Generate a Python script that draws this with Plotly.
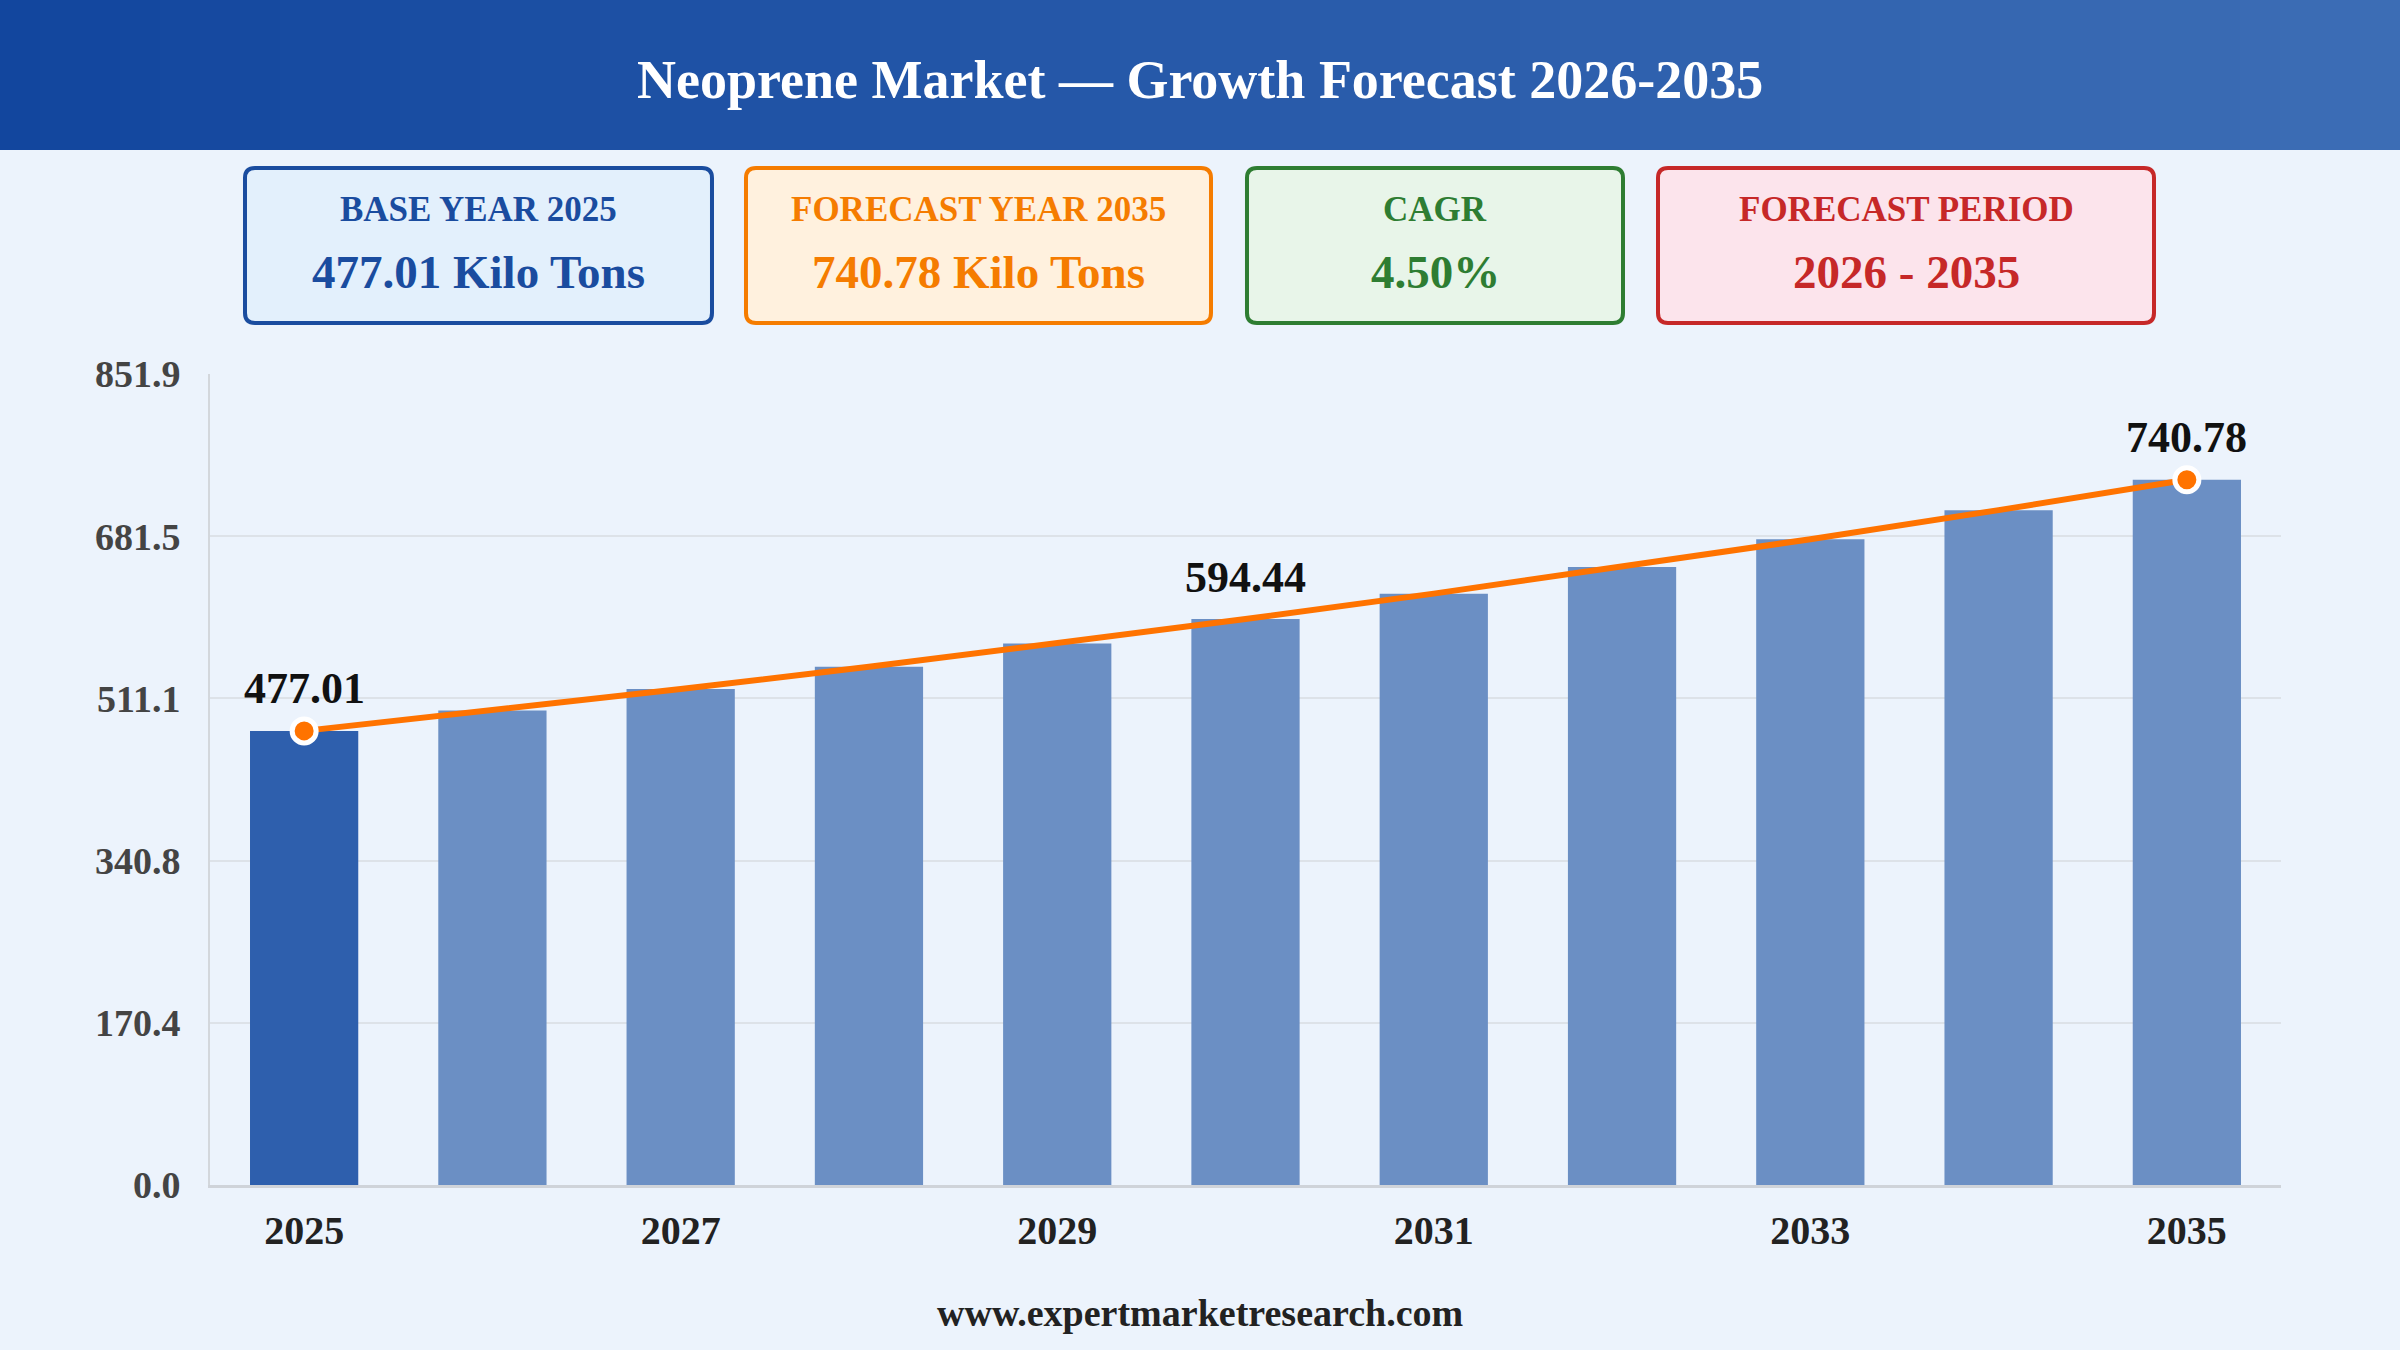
import plotly.graph_objects as go

# chart data
years = ['2025', '2026', '2027', '2028', '2029', '2030', '2031', '2032', '2033', '2034', '2035']
volume = [477.01, 498.48, 520.91, 544.35, 568.84, 594.44, 621.19, 649.14, 678.35, 708.88, 740.78]
label_years = ['2025', '2030', '2035']
marker_years = ['2025', '2035']
x_ticks = ['2025', '2027', '2029', '2031', '2033', '2035']
y_ticks = [0.0, 170.4, 340.8, 511.1, 681.5, 851.9]

# summary cards
card_titles = ['BASE YEAR 2025', 'FORECAST YEAR 2035', 'CAGR', 'FORECAST PERIOD']
card_values = ['477.01 Kilo Tons', '740.78 Kilo Tons', '4.50%', '2026 - 2035']
card_colors = ['#1a4c9f', '#f57c00', '#2e7d32', '#c62828']
card_fills = ['#e3f0fc', '#fff1de', '#e8f5e9', '#fce4ec']
card_x = [(245, 712), (746, 1211), (1247, 1623), (1658, 2154)]

FONT = 'Times New Roman, Liberation Serif, serif'
W, H = 2400, 1350
L, R, T, B = 210, 119, 374, 165
PW, PH = W - L - R, H - T - B


def px(x):
    return (x - L) / PW


def py(y):
    return 1 - (y - T) / PH


def rounded_path(x0, y0, x1, y1, r):
    pts = [('M', x0 + r, y0), ('L', x1 - r, y0), ('Q', x1, y0, x1, y0 + r),
           ('L', x1, y1 - r), ('Q', x1, y1, x1 - r, y1), ('L', x0 + r, y1),
           ('Q', x0, y1, x0, y1 - r), ('L', x0, y0 + r), ('Q', x0, y0, x0 + r, y0)]
    s = ''
    for p in pts:
        cmd, coords = p[0], p[1:]
        pairs = []
        for i in range(0, len(coords), 2):
            pairs.append(f'{px(coords[i]):.5f},{py(coords[i + 1]):.5f}')
        s += cmd + ' ' + ' '.join(pairs) + ' '
    return s + 'Z'


bar_colors = ['#2e5fad'] + ['#6b8fc4'] * (len(years) - 1)

fig = go.Figure()

fig.add_trace(go.Bar(
    x=years, y=volume,
    marker=dict(color=bar_colors, line=dict(width=0)),
    hoverinfo='x+y', showlegend=False
))

fig.add_trace(go.Scatter(
    x=years, y=volume, mode='lines',
    line=dict(color='#ff7300', width=6),
    hoverinfo='skip', showlegend=False
))

mk_y = [volume[years.index(y)] for y in marker_years]
fig.add_trace(go.Scatter(
    x=marker_years, y=mk_y, mode='markers',
    marker=dict(color='#ff7300', size=24, line=dict(color='white', width=5)),
    cliponaxis=False, showlegend=False
))

shapes = []
# header band with a left-to-right gradient
c0, c1 = (18, 70, 158), (60, 109, 181)
n = 60
for i in range(n):
    t = i / (n - 1)
    col = tuple(round(c0[k] + (c1[k] - c0[k]) * t) for k in range(3))
    shapes.append(dict(type='rect', xref='paper', yref='paper',
                       x0=px(W * i / n), x1=px(W * (i + 1) / n + 1),
                       y0=py(150), y1=py(0),
                       fillcolor='rgb(%d,%d,%d)' % col, line=dict(width=0)))

annotations = [dict(text='Neoprene Market — Growth Forecast 2026-2035',
                    xref='paper', yref='paper', x=px(1200), y=py(80),
                    showarrow=False, xanchor='center', yanchor='middle',
                    font=dict(family=FONT, size=54, color='white', weight='bold'))]

for title, val, col, fill, (x0, x1) in zip(card_titles, card_values, card_colors, card_fills, card_x):
    shapes.append(dict(type='path', xref='paper', yref='paper',
                       path=rounded_path(x0, 168, x1, 323, 10),
                       fillcolor=fill, line=dict(color=col, width=4)))
    annotations.append(dict(text=title, xref='paper', yref='paper',
                            x=px((x0 + x1) / 2), y=py(210), showarrow=False,
                            xanchor='center', yanchor='middle',
                            font=dict(family=FONT, size=35, color=col, weight='bold')))
    annotations.append(dict(text=val, xref='paper', yref='paper',
                            x=px((x0 + x1) / 2), y=py(272), showarrow=False,
                            xanchor='center', yanchor='middle',
                            font=dict(family=FONT, size=47, color=col, weight='bold')))

# value labels over the line (category index for x)
for yr in label_years:
    i = years.index(yr)
    annotations.append(dict(text=f'{volume[i]:.2f}', x=i, y=volume[i], yshift=42,
                            showarrow=False, xanchor='center', yanchor='middle',
                            font=dict(family=FONT, size=44, color='#111111', weight='bold')))

annotations.append(dict(text='www.expertmarketresearch.com', xref='paper', yref='paper',
                        x=px(1200), y=py(1313), showarrow=False,
                        xanchor='center', yanchor='middle',
                        font=dict(family=FONT, size=38, color='#222222', weight='bold')))

fig.update_layout(
    width=W, height=H,
    margin=dict(l=L, r=R, t=T, b=B, pad=0),
    paper_bgcolor='#ecf3fc', plot_bgcolor='#ecf3fc',
    bargap=0.425,
    shapes=shapes, annotations=annotations,
    xaxis=dict(type='category', categoryorder='array', categoryarray=years,
               range=[-0.5, len(years) - 0.5],
               tickvals=x_ticks, ticktext=x_ticks,
               showgrid=False, showline=True, linecolor='#cfd3d9', linewidth=3,
               ticks='', ticklabelstandoff=8,
               tickfont=dict(family=FONT, size=40, color='#222222', weight='bold')),
    yaxis=dict(range=[0, y_ticks[-1]], tickvals=y_ticks,
               ticktext=[f'{v:.1f}' for v in y_ticks],
               showgrid=True, gridcolor='#dde2e8', gridwidth=2,
               zeroline=False, showline=True, linecolor='#d3d7dc', linewidth=2,
               ticks='', ticklabelstandoff=20,
               tickfont=dict(family=FONT, size=38, color='#444444', weight='bold')),
)

fig.write_html('out.html', post_script="document.body.style.margin='0';",
               config={'displayModeBar': False})
